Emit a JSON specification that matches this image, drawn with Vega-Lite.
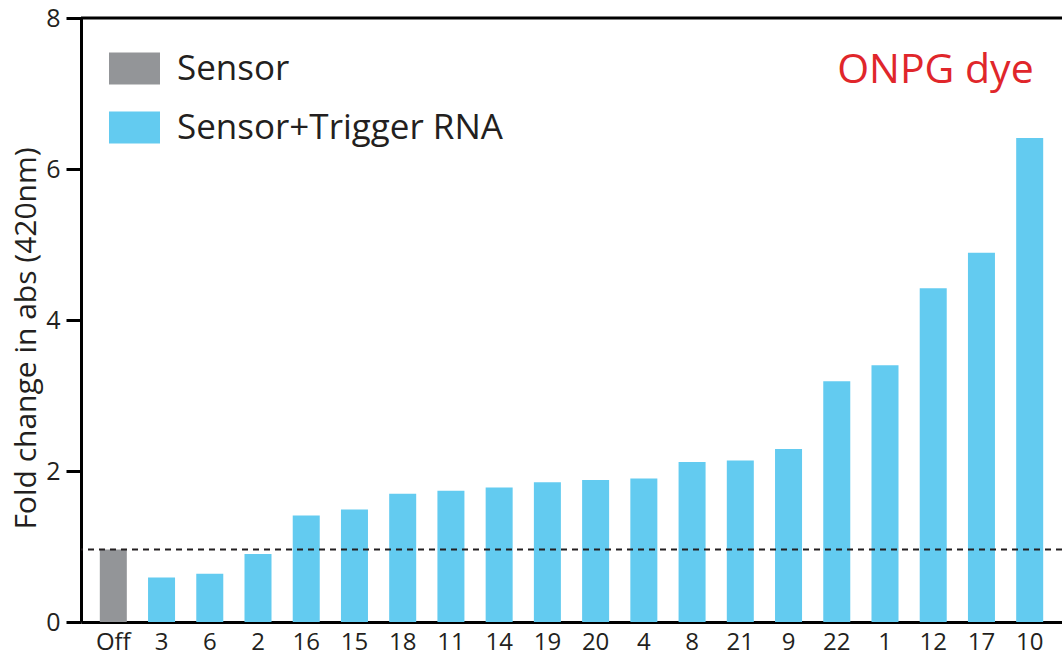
{
  "$schema": "https://vega.github.io/schema/vega-lite/v6.json",
  "autosize": "none",
  "width": 981,
  "height": 604,
  "padding": {"left": 81, "top": 18, "right": 0, "bottom": 37},
  "background": "white",
  "config": {
    "font": "Open Sans",
    "view": {"stroke": null},
    "axis": {"labelColor": "#231F20", "titleColor": "#231F20", "grid": false},
    "axisLeft": {"ticks": true, "tickSize": 15, "tickWidth": 3, "tickColor": "#000000", "tickOpacity": 1}
  },
  "datasets": {
    "bars": [
      {"id": "Off", "fold": 0.96, "group": "Sensor"},
      {"id": "3", "fold": 0.59, "group": "Sensor+Trigger RNA"},
      {"id": "6", "fold": 0.64, "group": "Sensor+Trigger RNA"},
      {"id": "2", "fold": 0.90, "group": "Sensor+Trigger RNA"},
      {"id": "16", "fold": 1.41, "group": "Sensor+Trigger RNA"},
      {"id": "15", "fold": 1.49, "group": "Sensor+Trigger RNA"},
      {"id": "18", "fold": 1.70, "group": "Sensor+Trigger RNA"},
      {"id": "11", "fold": 1.74, "group": "Sensor+Trigger RNA"},
      {"id": "14", "fold": 1.78, "group": "Sensor+Trigger RNA"},
      {"id": "19", "fold": 1.85, "group": "Sensor+Trigger RNA"},
      {"id": "20", "fold": 1.88, "group": "Sensor+Trigger RNA"},
      {"id": "4", "fold": 1.90, "group": "Sensor+Trigger RNA"},
      {"id": "8", "fold": 2.12, "group": "Sensor+Trigger RNA"},
      {"id": "21", "fold": 2.14, "group": "Sensor+Trigger RNA"},
      {"id": "9", "fold": 2.29, "group": "Sensor+Trigger RNA"},
      {"id": "22", "fold": 3.19, "group": "Sensor+Trigger RNA"},
      {"id": "1", "fold": 3.40, "group": "Sensor+Trigger RNA"},
      {"id": "12", "fold": 4.42, "group": "Sensor+Trigger RNA"},
      {"id": "17", "fold": 4.89, "group": "Sensor+Trigger RNA"},
      {"id": "10", "fold": 6.41, "group": "Sensor+Trigger RNA"}
    ],
    "note": [{"label": "ONPG dye", "id": "10", "fold": 7.14}]
  },
  "layer": [
    {
      "data": {"name": "bars"},
      "mark": {"type": "bar"},
      "encoding": {
        "x": {
          "field": "id", "type": "nominal", "sort": null,
          "scale": {"paddingInner": 0.44, "paddingOuter": 0.39},
          "axis": {
            "title": null, "labelAngle": 0, "ticks": false,
            "labelFontSize": 24, "labelPadding": 8,
            "domainColor": "#000000", "domainWidth": 3
          }
        },
        "y": {
          "field": "fold", "type": "quantitative",
          "scale": {"domain": [0, 8], "nice": false},
          "axis": {
            "title": "Fold change in abs (420nm)",
            "titleFontSize": 30, "titleFontWeight": "normal", "titlePadding": 4, "titleY": 320,
            "tickCount": 4, "format": "d",
            "labelFontSize": 25, "labelPadding": 6,
            "ticks": true, "tickSize": 15, "tickWidth": 3, "tickColor": "#000000",
            "domainColor": "#000000", "domainWidth": 3
          }
        },
        "color": {
          "field": "group", "type": "nominal",
          "scale": {"domain": ["Sensor", "Sensor+Trigger RNA"], "range": ["#939598", "#63CBF0"]},
          "legend": {
            "title": null,
            "orient": "none", "legendX": 28, "legendY": 25,
            "symbolType": "M-1,-0.63L1,-0.63L1,0.63L-1,0.63Z",
            "symbolSize": 2601, "symbolStrokeWidth": 0, "symbolOpacity": 1,
            "labelFontSize": 35, "labelColor": "#231F20", "labelOffset": 17,
            "rowPadding": 15, "labelLimit": 500
          }
        }
      }
    },
    {
      "data": {"values": [{"y": 8}]},
      "mark": {"type": "rule", "color": "#000000", "strokeWidth": 3},
      "encoding": {"y": {"field": "y", "type": "quantitative"}}
    },
    {
      "data": {"values": [{"y": 0.96}]},
      "mark": {"type": "rule", "color": "#231F20", "strokeWidth": 2, "strokeDash": [6, 5]},
      "encoding": {"y": {"field": "y", "type": "quantitative"}}
    },
    {
      "data": {"name": "note"},
      "mark": {"type": "text", "align": "right", "baseline": "alphabetic", "fontSize": 41, "color": "#E0262B", "dx": 4},
      "encoding": {
        "x": {"field": "id", "type": "nominal", "sort": null},
        "y": {"field": "fold", "type": "quantitative"},
        "text": {"field": "label"}
      }
    }
  ]
}
